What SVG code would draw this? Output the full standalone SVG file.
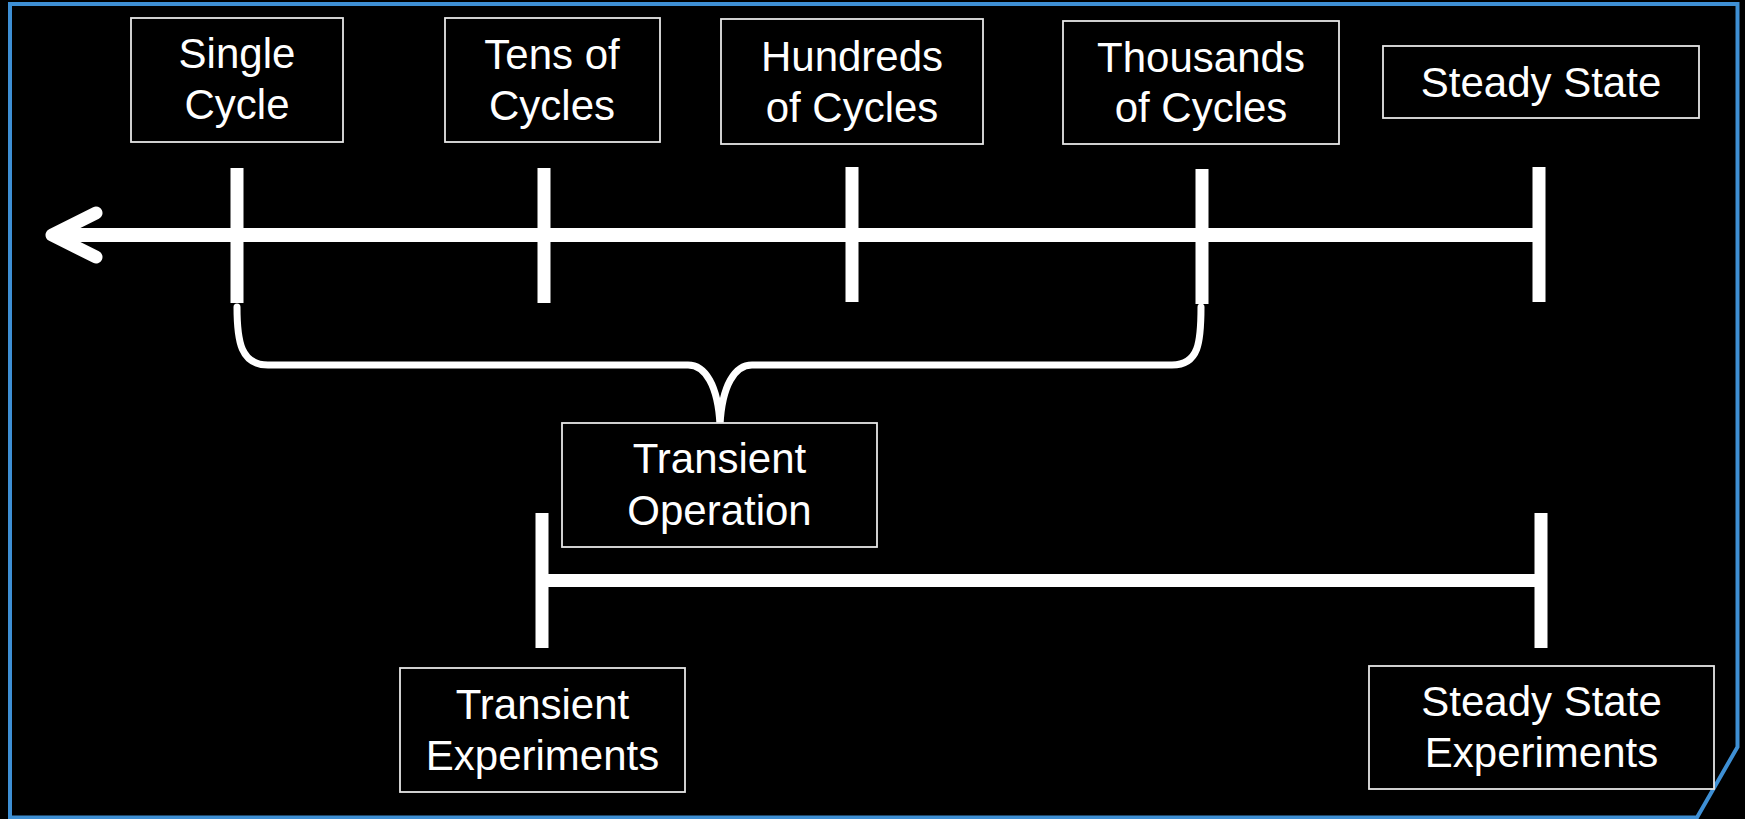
<svg xmlns="http://www.w3.org/2000/svg" width="1745" height="819" viewBox="0 0 1745 819">
<style>
.box{fill:#000;stroke:#e6e6e6;stroke-width:1.8}
.lbl{font-family:"Liberation Sans",Arial,sans-serif;font-size:42px;fill:#fff;text-anchor:middle}
.tick{stroke:#fff;stroke-width:13;fill:none}
.axis{stroke:#fff;stroke-width:14;fill:none}
.brace{stroke:#fff;stroke-width:7;fill:none;stroke-linecap:round;stroke-linejoin:round}
</style>
<rect x="0" y="0" width="1745" height="819" fill="#000"/>
<polygon points="10,4 1737.5,4 1737.5,747 1697,817.5 10,817.5" fill="none" stroke="#3e8fd4" stroke-width="4"/>
<g id="connectors">
<line class="axis" x1="52" y1="235" x2="1539" y2="235"/>
<polyline points="96,213 52,235 96,257" fill="none" stroke="#fff" stroke-width="13" stroke-linecap="round" stroke-linejoin="round"/>
<line class="tick" x1="237" y1="168" x2="237" y2="303"/>
<line class="tick" x1="544" y1="168" x2="544" y2="303"/>
<line class="tick" x1="852" y1="167" x2="852" y2="302"/>
<line class="tick" x1="1202" y1="169" x2="1202" y2="304"/>
<line class="tick" x1="1539" y1="167" x2="1539" y2="302"/>
<path class="brace" d="M237,307 C237,342 241,365 268,365 L688,365 C705,365 718,385 720,425 C722,385 735,365 752,365 L1172,365 C1199,365 1201,342 1201,307"/>
<line class="axis" x1="542" y1="580.5" x2="1541" y2="580.5" style="stroke-width:13"/>
<line class="tick" x1="542" y1="513" x2="542" y2="648"/>
<line class="tick" x1="1541" y1="513" x2="1541" y2="648"/>
</g>
<g id="single-cycle">
<rect class="box" x="131" y="18" width="212" height="124"/>
<text class="lbl" x="237" y="68">Single</text>
<text class="lbl" x="237" y="119">Cycle</text>
</g>
<g id="tens-of-cycles">
<rect class="box" x="445" y="18" width="215" height="124"/>
<text class="lbl" x="552" y="69">Tens of</text>
<text class="lbl" x="552" y="120">Cycles</text>
</g>
<g id="hundreds-of-cycles">
<rect class="box" x="721" y="19" width="262" height="125"/>
<text class="lbl" x="852" y="71">Hundreds</text>
<text class="lbl" x="852" y="122">of Cycles</text>
</g>
<g id="thousands-of-cycles">
<rect class="box" x="1063" y="21" width="276" height="123"/>
<text class="lbl" x="1201" y="72">Thousands</text>
<text class="lbl" x="1201" y="122">of Cycles</text>
</g>
<g id="steady-state">
<rect class="box" x="1383" y="46" width="316" height="72"/>
<text class="lbl" x="1541" y="97">Steady State</text>
</g>
<g id="transient-operation">
<rect class="box" x="562" y="423" width="315" height="124"/>
<text class="lbl" x="719.5" y="473">Transient</text>
<text class="lbl" x="719.5" y="525">Operation</text>
</g>
<g id="transient-experiments">
<rect class="box" x="400" y="668" width="285" height="124"/>
<text class="lbl" x="542.5" y="719">Transient</text>
<text class="lbl" x="542.5" y="770">Experiments</text>
</g>
<g id="steady-state-experiments">
<rect class="box" x="1369" y="666" width="345" height="123"/>
<text class="lbl" x="1541.5" y="716">Steady State</text>
<text class="lbl" x="1541.5" y="767">Experiments</text>
</g>
</svg>
